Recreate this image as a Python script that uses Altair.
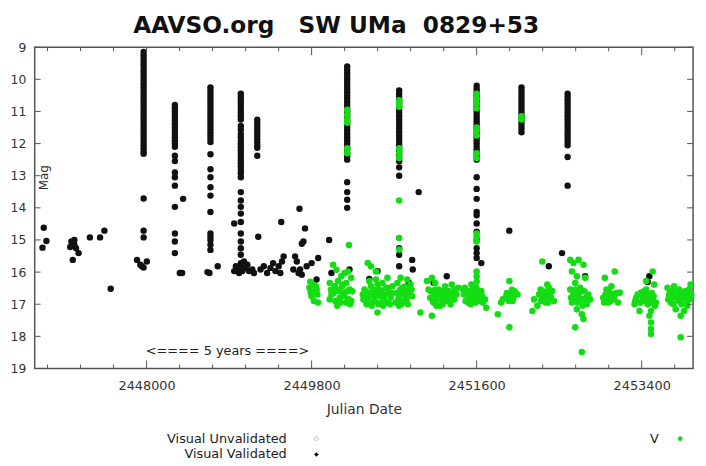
import altair as alt
import pandas as pd

# ---------------- data ----------------
# Outburst columns of visual validated observations (JD, list of magnitudes)
ob1_jd = 2447968
ob1_mag = [9.15, 9.25, 9.35, 9.45, 9.55, 9.65, 9.75, 9.85, 9.95, 10.05, 10.15, 10.25,
           10.35, 10.45, 10.55, 10.65, 10.75, 10.85, 10.95, 11.05, 11.15, 11.25, 11.35,
           11.45, 11.55, 11.65, 11.75, 11.85, 11.95, 12.05, 12.15, 12.25, 12.32,
           13.71, 14.71, 14.92]
ob2_jd = 2448309
ob2_mag = [10.8, 10.9, 11.0, 11.1, 11.2, 11.3, 11.4, 11.5, 11.6, 11.7, 11.8, 11.9,
           12.0, 12.1, 12.38, 12.54, 12.9, 13.05, 13.31, 13.97, 14.8, 15.05, 15.41]
ob3_jd = 2448697
ob3_mag = [10.25, 10.35, 10.45, 10.55, 10.65, 10.75, 10.85, 10.95, 11.05, 11.15, 11.25,
           11.35, 11.45, 11.55, 11.65, 11.75, 11.85, 11.95, 12.33, 12.8, 13.05, 13.36,
           13.62, 14.13, 14.8, 14.9, 15.0, 15.15, 15.31]
ob4_jd = 2449028
ob4_mag = [10.45, 10.55, 10.65, 10.75, 10.85, 10.95, 11.05, 11.15, 11.25, 11.45, 11.56,
           11.7, 11.8, 11.92, 12.02, 12.12, 12.22, 12.32, 12.42, 12.52, 12.62, 12.72,
           12.82, 12.92, 13.05, 13.51, 13.77, 13.97, 14.18, 14.44, 14.8, 15.05, 15.26,
           15.46, 15.72]
ob5_jd = 2449207
ob5_mag = [11.26, 11.36, 11.46, 11.56, 11.66, 11.76, 11.86, 11.96, 12.06, 12.13, 12.38]
ob6_jd = 2450188
ob6_mag = [9.6, 9.7, 9.8, 9.9, 10.0, 10.1, 10.2, 10.3, 10.4, 10.5, 10.6, 10.7, 10.8,
           10.9, 11.0, 11.1, 11.2, 11.3, 11.4, 11.5, 11.6, 11.7, 11.8, 11.9, 12.0, 12.1,
           12.2, 12.3, 12.4, 12.5, 13.2, 13.51, 13.75, 14.0]
ob7_jd = 2450755
ob7_mag = [10.35, 10.45, 10.55, 10.65, 10.75, 10.85, 10.95, 11.05, 11.15, 11.25, 11.35,
           11.45, 11.55, 11.65, 11.75, 11.85, 11.95, 12.05, 12.15, 12.25, 12.35, 12.45,
           12.55, 12.74, 13.0, 15.26, 15.46, 15.82]
ob8_jd = 2451600
ob8_mag = [10.2, 10.3, 10.4, 10.5, 10.6, 10.7, 10.8, 10.9, 11.0, 11.1, 11.2, 11.3, 11.4,
           11.5, 11.6, 11.7, 11.8, 11.9, 12.0, 12.1, 12.2, 12.3, 12.4, 12.5, 13.05, 13.41,
           13.72, 14.13, 14.23, 14.49, 14.74, 15.0, 15.26, 15.41, 15.56]
ob9_jd = 2452089
ob9_mag = [10.25, 10.35, 10.45, 10.55, 10.65, 10.75, 10.85, 10.95, 11.05, 11.15, 11.25,
           11.35, 11.45, 11.55, 11.65]
ob10_jd = 2452592
ob10_mag = [10.45, 10.55, 10.65, 10.75, 10.85, 10.95, 11.05, 11.15, 11.25, 11.35, 11.45,
            11.55, 11.65, 11.75, 11.85, 11.95, 12.05, 12.42, 13.31]

# Scattered visual validated observations
vis_jd = [2446879, 2446908, 2446865, 2447213, 2447188, 2447167, 2447231, 2447259, 2447195,
          2447213, 2447180, 2447382, 2447493, 2447540, 2447609,
          2447896, 2447949, 2448003, 2447932, 2447968,
          2448399, 2448363, 2448388,
          2448664, 2448686, 2448776,
          2448956, 2448992, 2449027, 2449045, 2449081, 2449117, 2449153, 2449063, 2449009,
          2448974, 2449099, 2449171, 2448956,
          2449218,
          2449243, 2449279, 2449315, 2449351, 2449380, 2449405, 2449441, 2449477, 2449495,
          2449459, 2449469, 2449668, 2449728, 2449711, 2449693, 2449620, 2449639, 2449675,
          2449693, 2449746, 2449800, 2449872, 2449854, 2449601, 2449657,
          2449991, 2450016, 2450213, 2450429, 2450519, 2450897, 2450903, 2450968, 2450860,
          2451130, 2451274, 2451651, 2451956, 2452387, 2452531, 2452783, 2453465, 2453483]
vis_mag = [14.62, 15.03, 15.24, 15.0, 15.1, 15.22, 15.26, 15.41, 15.62,
           15.15, 15.05, 14.92, 14.92, 14.71, 16.52,
           15.62, 15.82, 15.67, 15.77, 15.86,
           13.72, 16.03, 16.03,
           16.0, 16.03, 15.82,
           15.97, 15.92, 15.82, 15.97, 15.87, 15.97, 15.92, 15.67, 16.03,
           15.82, 15.77, 16.03, 14.49,
           14.9,
           15.92, 15.82, 16.03, 15.87, 15.72, 15.97, 15.82, 15.67, 15.51,
           16.03, 14.44, 14.03, 14.64, 15.05, 15.12, 15.51, 15.67, 15.92,
           16.08, 15.82, 15.72, 15.56, 16.23, 15.92, 16.03,
           15.0, 16.03, 15.92, 16.21, 15.97, 15.62, 15.92, 13.51, 16.33,
           16.33, 16.13, 15.72, 14.71, 15.82, 15.41, 16.13, 16.31, 16.13]

# V band observations (green)
v_col_jd = [ob6_jd, ob7_jd, ob8_jd, ob9_jd]
v_col_mag = [[10.95, 11.1, 11.25, 11.35, 12.15, 12.3],
             [10.65, 10.75, 10.85, 12.15, 12.3, 12.45, 13.77, 14.94, 15.3],
             [10.45, 10.6, 10.75, 10.9, 11.5, 11.6, 11.75, 12.3, 12.45, 14.8, 14.9,
              15.05, 15.98, 16.13, 16.3],
             [11.15, 11.25]]

v_jd = [2449776, 2449811, 2449837, 2449862, 2449790, 2449847,
        2450207, 2450034, 2450070, 2449998, 2450052, 2450088, 2450124, 2450160, 2450178,
        2450214, 2450142, 2450106, 2450016, 2449998, 2450232, 2450178, 2450070, 2450142,
        2450232, 2450196,
        2450412, 2450447, 2450501, 2450519, 2450376, 2450412, 2450447, 2450483, 2450537,
        2450573, 2450609, 2450645, 2450591, 2450555, 2450465, 2450394, 2450429, 2450501,
        2450627, 2450663, 2450358, 2450681, 2450519, 2450573, 2450483,
        2450735, 2450789, 2450825, 2450861, 2450753, 2450807, 2450717, 2450879, 2450843,
        2450771, 2450897, 2450753,
        2450986, 2451058, 2451076,
        2451112, 2451148, 2451184, 2451220, 2451256, 2451292, 2451328, 2451364, 2451094,
        2451130, 2451166, 2451202, 2451238, 2451274, 2451112, 2451400, 2451328, 2451148,
        2451453, 2451489, 2451525, 2451561, 2451597, 2451543, 2451507, 2451633, 2451669,
        2451705, 2451471, 2451579, 2451651,
        2451831, 2451867, 2451885, 2451957, 2451974, 2452010, 2452046, 2451939, 2451992,
        2451957, 2451921,
        2452316, 2452370, 2452298, 2452334, 2452406, 2452442, 2452226, 2452262, 2452208,
        2452352, 2452388, 2452424, 2452316,
        2452621, 2452657, 2452711, 2452765, 2452639, 2452693, 2452675, 2452729, 2452621,
        2452657, 2452711, 2452765, 2452819, 2452801, 2452639, 2452693, 2452747, 2452765,
        2452675, 2452747, 2452783, 2452837, 2452675,
        2452998, 2453106, 2453016, 2453052, 2453088, 2453142, 2452980, 2453034, 2453160,
        2453070,
        2453519, 2453340, 2453394, 2453448, 2453484, 2453519, 2453466, 2453501, 2453484,
        2453501, 2453501, 2453501, 2453412, 2453376, 2453322, 2453537, 2453448, 2453555,
        2453681, 2453735, 2453771, 2453807, 2453843, 2453879, 2453915, 2453933, 2453717,
        2453771, 2453825, 2453861, 2453897, 2453825, 2453699, 2453940, 2453753, 2453807]
v_mag = [16.49, 16.39, 16.59, 16.70, 16.64, 16.44,
         15.16, 15.77, 15.93, 16.34, 16.44, 16.28, 16.13, 16.03, 16.34,
         16.54, 16.64, 16.80, 16.70, 16.85, 16.90, 16.95, 16.54, 16.39,
         16.18, 15.98,
         15.72, 15.82, 15.98, 17.26, 16.54, 16.64, 16.44, 16.75, 16.54,
         16.34, 16.49, 16.64, 16.85, 16.95, 16.95, 16.90, 16.28, 16.23,
         16.18, 16.80, 16.70, 16.44, 16.39, 16.70, 16.59,
         16.34, 16.49, 16.64, 16.54, 16.75, 16.90, 16.95, 16.39, 16.23,
         16.18, 16.75, 17.05,
         17.26, 16.28, 16.54,
         16.18, 16.34, 16.54, 16.70, 16.44, 16.59, 16.75, 16.54, 16.80,
         16.95, 16.85, 17.05, 16.90, 16.80, 17.36, 16.49, 16.39, 16.54,
         16.54, 16.70, 16.85, 16.64, 16.49, 16.39, 16.95, 16.80, 16.95,
         17.11, 16.49, 16.90, 16.59,
         17.31, 16.95, 16.85, 16.28, 16.64, 16.59, 16.70, 16.80, 16.90,
         17.72, 16.75,
         15.67, 16.39, 16.54, 16.70, 16.75, 16.90, 16.85, 17.05, 17.21,
         16.95, 16.49, 16.59, 16.80,
         15.62, 15.72, 15.62, 15.77, 15.98, 16.13, 16.34, 16.49, 16.54,
         16.70, 16.80, 16.85, 16.70, 17.00, 16.95, 17.16, 17.31, 17.46,
         17.72, 18.49, 16.18, 16.85, 16.54,
         16.18, 15.98, 16.54, 16.70, 16.85, 16.95, 16.80, 16.95, 16.64,
         16.44,
         15.98, 16.80, 16.64, 16.54, 16.70, 16.85, 17.00, 17.21, 17.36,
         17.57, 17.77, 17.93, 16.90, 17.21, 17.00, 16.39, 16.28, 16.95,
         16.49, 16.59, 16.75, 16.90, 16.64, 16.80, 16.54, 16.39, 16.95,
         17.16, 17.36, 17.21, 17.05, 18.03, 16.70, 16.70, 16.44, 16.54]

# more V band observations inside the dense seasonal groups
v2_jd = [2449800, 2449825, 2449855, 2449870, 2449785,
         2450010, 2450040, 2450060, 2450095, 2450115, 2450130, 2450155, 2450190, 2450205,
         2450220, 2450245, 2450080,
         2450365, 2450385, 2450400, 2450420, 2450440, 2450455, 2450475, 2450490, 2450510,
         2450530, 2450545, 2450560, 2450580, 2450600, 2450620, 2450635, 2450655, 2450670,
         2450725, 2450745, 2450765, 2450780, 2450800, 2450815, 2450835, 2450850, 2450870,
         2450890,
         2451100, 2451120, 2451140, 2451160, 2451175, 2451195, 2451210, 2451230, 2451250,
         2451265, 2451285, 2451300, 2451315, 2451340, 2451355, 2451380,
         2451460, 2451480, 2451500, 2451515, 2451535, 2451550, 2451570, 2451590, 2451615,
         2451640, 2451660, 2451690,
         2451930, 2451950, 2451965, 2451985, 2452000, 2452025,
         2452280, 2452300, 2452325, 2452345, 2452360, 2452380, 2452395, 2452415,
         2452630, 2452650, 2452665, 2452685, 2452700, 2452720, 2452740, 2452755, 2452775,
         2452790,
         2452990, 2453005, 2453025, 2453045, 2453060, 2453080, 2453100, 2453120,
         2453330, 2453355, 2453385, 2453405, 2453425, 2453440, 2453460, 2453475, 2453495,
         2453510, 2453530, 2453545,
         2453690, 2453710, 2453725, 2453745, 2453760, 2453790, 2453815, 2453835, 2453850,
         2453870, 2453890, 2453905, 2453925]
v2_mag = [16.75, 16.9, 16.55, 16.95, 16.3,
          16.55, 16.65, 16.9, 16.6, 16.95, 16.45, 16.75, 16.6, 16.85,
          17.0, 16.6, 17.05,
          16.85, 16.6, 17.0, 16.8, 16.65, 17.05, 16.55, 16.9, 16.7,
          17.0, 16.75, 16.6, 17.05, 16.7, 16.95, 16.5, 17.0, 16.65,
          16.65, 16.85, 16.55, 17.0, 16.7, 16.45, 16.85, 17.0, 16.7,
          16.55,
          16.6, 16.9, 16.7, 17.05, 16.65, 16.85, 16.6, 17.0, 16.75,
          16.6, 16.9, 16.7, 17.0, 16.6, 16.85, 16.7,
          16.7, 16.9, 16.6, 16.8, 17.0, 16.55, 16.75, 16.95, 16.65,
          16.9, 16.75, 16.85,
          16.65, 16.9, 16.75, 16.55, 16.8, 16.65,
          16.7, 16.9, 16.6, 16.8, 16.65, 16.95, 16.75, 16.85,
          16.8, 16.6, 16.9, 16.7, 16.95, 16.65, 16.85, 17.05, 16.6,
          16.8,
          16.95, 16.7, 16.85, 16.6, 16.9, 16.7, 16.8, 16.65,
          16.9, 16.7, 16.95, 16.75, 16.6, 16.85, 16.75, 16.9, 16.95,
          16.65, 16.75, 17.05,
          16.85, 16.6, 16.8, 17.0, 16.65, 16.85, 16.7, 17.0, 16.8,
          16.6, 16.9, 16.7, 16.85]

# axis ticks
x_major = [2448000, 2449800, 2451600, 2453400]
x_minor = [2446920, 2447280, 2447640, 2448360, 2448720, 2449080, 2449440, 2450160,
           2450520, 2450880, 2451240, 2451960, 2452320, 2452680, 2453040, 2453760]
y_ticks = [9, 10, 11, 12, 13, 14, 15, 16, 17, 18, 19]

# ---------------- tables ----------------
cols = [(ob1_jd, ob1_mag), (ob2_jd, ob2_mag), (ob3_jd, ob3_mag), (ob4_jd, ob4_mag),
        (ob5_jd, ob5_mag), (ob6_jd, ob6_mag), (ob7_jd, ob7_mag), (ob8_jd, ob8_mag),
        (ob9_jd, ob9_mag), (ob10_jd, ob10_mag)]
bj, bm = [], []
for j, ms in cols:
    bj += [j] * len(ms)
    bm += ms
bj += vis_jd
bm += vis_mag
black = pd.DataFrame({"jd": bj, "mag": bm})

gj, gm = [], []
for j, ms in zip(v_col_jd, v_col_mag):
    gj += [j] * len(ms)
    gm += ms
gj += v_jd + v2_jd
gm += v_mag + v2_mag
green = pd.DataFrame({"jd": gj, "mag": gm})

W, H = 666, 325
FONT = "DejaVu Sans"
GREEN = "#14dd14"
xs = alt.Scale(domain=[2446780, 2453960], nice=False, zero=False)
ys = alt.Scale(domain=[9, 19], reverse=True, nice=False, zero=False)

x_axis = alt.Axis(values=x_major, format="d", tickSize=0, domain=False, grid=False,
                  labelFont=FONT, labelFontSize=13, labelColor="#333333",
                  labelPadding=11, title="Julian Date", titleFont=FONT,
                  titleFontSize=14, titleFontWeight="normal", titleColor="#333333",
                  titlePadding=11)
y_axis = alt.Axis(values=y_ticks, tickSize=0, domain=False, grid=False,
                  labelFont=FONT, labelFontSize=12.5, labelColor="#333333",
                  labelPadding=9, title=None)


def X(field):
    return alt.X(field, scale=xs, axis=x_axis, title="Julian Date")


def Y(field):
    return alt.Y(field, scale=ys, axis=y_axis, title=None)


black_layer = alt.Chart(black).mark_circle(size=42, color="#111111", opacity=1).encode(
    x=X("jd:Q"), y=Y("mag:Q"))
green_layer = alt.Chart(green).mark_circle(size=44, color=GREEN, opacity=1).encode(
    x=X("jd:Q"), y=Y("mag:Q"))

tick_col = "#555555"
ymaj = pd.DataFrame({"jd": [2446780] * len(y_ticks), "mag": y_ticks})
xmaj = pd.DataFrame({"jd": x_major, "mag": [19] * len(x_major)})
xmin = pd.DataFrame({"jd": x_minor, "mag": [19] * len(x_minor)})
y_left = alt.Chart(ymaj).mark_rule(color=tick_col, strokeWidth=1).encode(
    y=Y("mag:Q"), x=alt.value(0), x2=alt.value(6))
y_right = alt.Chart(ymaj).mark_rule(color=tick_col, strokeWidth=1).encode(
    y=Y("mag:Q"), x=alt.value(W - 6), x2=alt.value(W))
xb_maj = alt.Chart(xmaj).mark_rule(color=tick_col, strokeWidth=1).encode(
    x=X("jd:Q"), y=alt.value(H), y2=alt.value(H - 8))
xt_maj = alt.Chart(xmaj).mark_rule(color=tick_col, strokeWidth=1).encode(
    x=X("jd:Q"), y=alt.value(0), y2=alt.value(8))
xb_min = alt.Chart(xmin).mark_rule(color=tick_col, strokeWidth=1).encode(
    x=X("jd:Q"), y=alt.value(H), y2=alt.value(H - 4))
xt_min = alt.Chart(xmin).mark_rule(color=tick_col, strokeWidth=1).encode(
    x=X("jd:Q"), y=alt.value(0), y2=alt.value(4))

one = pd.DataFrame({"a": [0]})


def label(text, x, y, size=13, align="center", weight="normal", angle=0, color="#333333",
          baseline="middle"):
    return alt.Chart(one).mark_text(text=text, font=FONT, fontSize=size, align=align,
                                    fontWeight=weight, angle=angle, color=color,
                                    baseline=baseline).encode(
        x=alt.value(x), y=alt.value(y))


title = label("AAVSO.org\u00a0\u00a0\u00a0SW UMa\u00a0\u00a00829+53", 305, -14, size=23.5,
              weight="bold", color="#111111", baseline="alphabetic")
mag_lbl = label("Mag", 9, 132, size=12, angle=270)
years = label("<==== 5 years ====>", 195, 307, size=13, color="#222222")
leg1 = label("Visual Unvalidated", 255, 396, size=13, align="right", color="#222222")
leg2 = label("Visual Validated", 255, 412, size=13, align="right", color="#222222")
leg3 = label("V", 627, 396, size=13, color="#222222")
sym1 = alt.Chart(one).mark_point(shape="diamond", filled=False, color="#999999", size=22,
                                 strokeWidth=1).encode(x=alt.value(285), y=alt.value(396))
sym2 = alt.Chart(one).mark_point(shape="diamond", filled=True, color="#111111", size=22,
                                 opacity=1).encode(x=alt.value(285), y=alt.value(412))
sym3 = alt.Chart(one).mark_circle(color=GREEN, size=22, opacity=1).encode(
    x=alt.value(653), y=alt.value(396))

chart = alt.layer(
    black_layer, green_layer, y_left, y_right, xb_maj, xt_maj, xb_min, xt_min,
    title, mag_lbl, years, leg1, leg2, leg3, sym1, sym2, sym3
).properties(
    width=W, height=H,
    autosize=alt.AutoSizeParams(type="none"),
    padding={"left": 27, "top": 37, "right": 5, "bottom": 95},
    background="white",
).configure_view(stroke="#555555", strokeWidth=1.5)

chart.save("out.html", embed_options={"renderer": "svg", "actions": False})
